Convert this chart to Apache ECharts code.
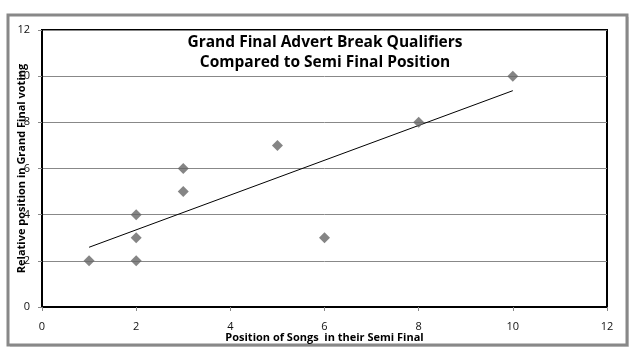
<!DOCTYPE html>
<html><head><meta charset="utf-8">
<script src="https://cdn.jsdelivr.net/npm/echarts@6/dist/echarts.min.js"></script>
<style>html,body{margin:0;padding:0;background:#fff}#c{width:640px;height:360px}</style>
</head><body><div id="c"></div>
<script>
const semiPos = [1, 2, 2, 2, 3, 3, 5, 6, 8, 10];
const grandPos = [2, 2, 3, 4, 5, 6, 7, 3, 8, 10];
const titleLines = ['Grand Final Advert Break Qualifiers', 'Compared to Semi Final Position'];
const xName = 'Position of Songs  in their Semi Final';
const yName = 'Relative position in Grand Final voting';

const n = semiPos.length;
const mx = semiPos.reduce((a,b)=>a+b,0)/n, my = grandPos.reduce((a,b)=>a+b,0)/n;
let sxy=0,sxx=0;
for(let i=0;i<n;i++){sxy+=(semiPos[i]-mx)*(grandPos[i]-my);sxx+=(semiPos[i]-mx)**2;}
const slope=sxy/sxx, icpt=my-slope*mx;
const xmin=Math.min(...semiPos), xmax=Math.max(...semiPos);
const trend=[[xmin,icpt+slope*xmin],[xmax,icpt+slope*xmax]];

const chart = echarts.init(document.getElementById('c'));
const font = '"Open Sans", "DejaVu Sans", sans-serif';
chart.setOption({
  animation:false,
  backgroundColor:'#fff',
  graphic:[
    {type:'rect',shape:{x:10,y:17,width:619,height:330},style:{fill:'#d8d8d8'},z:-2},
    {type:'rect',shape:{x:8,y:15,width:619,height:330},style:{fill:'#fff',stroke:'#888',lineWidth:3},z:-1}
  ],
  title:{text:titleLines.join('\n'),left:320,top:28,textAlign:'center',
    textStyle:{fontFamily:font,fontWeight:'bold',fontSize:15.5,color:'#000',lineHeight:20}},
  grid:{left:42,top:30,right:33,bottom:53,containLabel:false,outerBoundsMode:'none',show:true,borderColor:'#000',borderWidth:2,backgroundColor:'transparent'},
  xAxis:{type:'value',min:0,max:12,interval:2,
    name:xName,nameLocation:'middle',nameGap:25,nameMoveOverlap:false,
    nameTextStyle:{fontFamily:font,fontWeight:'bold',fontSize:11,color:'#000'},
    axisLine:{show:true,lineStyle:{color:'#000',width:2}},
    axisTick:{show:true,length:4,lineStyle:{color:'#888'}},
    axisLabel:{fontFamily:font,fontSize:11,color:'#111',margin:14},
    splitLine:{show:false}},
  yAxis:{type:'value',min:0,max:12,interval:2,
    name:yName,nameLocation:'middle',nameGap:15,nameRotate:90,nameMoveOverlap:false,
    nameTextStyle:{fontFamily:font,fontWeight:'bold',fontSize:11,color:'#000'},
    axisLine:{show:true,lineStyle:{color:'#000',width:2}},
    axisTick:{show:true,length:4,lineStyle:{color:'#888'}},
    axisLabel:{fontFamily:font,fontSize:11,color:'#111',margin:12},
    splitLine:{show:true,lineStyle:{color:'#888',width:1}}},
  series:[
    {type:'scatter',data:semiPos.map((x,i)=>[x,grandPos[i]]),symbol:'diamond',symbolSize:11,
      itemStyle:{color:'#666'},z:3},
    {type:'line',data:trend,symbol:'none',lineStyle:{color:'#000',width:1},z:2}
  ]
});
</script></body></html>
